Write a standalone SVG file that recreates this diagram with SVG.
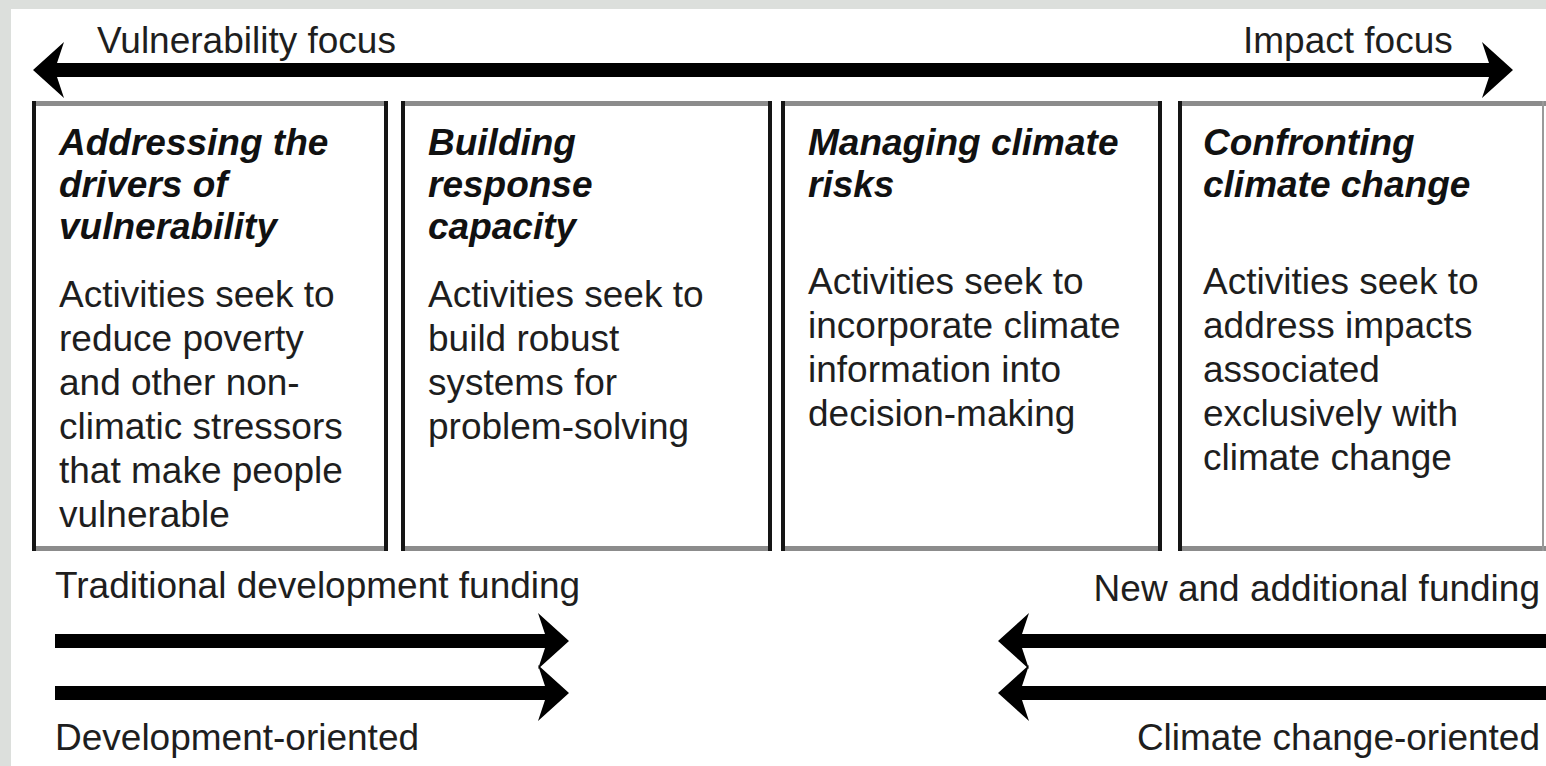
<svg xmlns="http://www.w3.org/2000/svg" width="1546" height="766" viewBox="0 0 1546 766">
  <style>
    text { font-family: "Liberation Sans", Arial, sans-serif; font-size: 37px; fill: #1e1e1e; }
    .head { font-weight: bold; font-style: italic; fill: #111; }
    .hline { fill: #8c8c8c; }
    .vline { fill: #151515; }
    .shaft { fill: #000; }
  </style>
  <defs>
    <!-- notched arrowhead pointing left, tip at origin -->
    <path id="headL" d="M0,0 L31,-28 L24,-7 L24,7 L31,28 Z" fill="#000"/>
    <!-- notched arrowhead pointing right, tip at origin -->
    <path id="headR" d="M0,0 L-31,-28 L-24,-7 L-24,7 L-31,28 Z" fill="#000"/>
  </defs>

  <!-- page and margin -->
  <rect x="0" y="0" width="1546" height="766" fill="#dcdfdc"/>
  <rect x="11" y="9" width="1535" height="757" fill="#fff"/>

  <!-- axis labels -->
  <text x="97" y="53">Vulnerability focus</text>
  <text x="1243" y="53">Impact focus</text>

  <g id="connectors">
    <!-- vulnerability / impact axis -->
    <rect class="shaft" x="55" y="63" width="1435" height="14"/>
    <use href="#headL" x="33" y="70"/>
    <use href="#headR" x="1513" y="70"/>
    <!-- development side -->
    <rect class="shaft" x="55" y="634" width="492" height="14"/>
    <use href="#headR" x="569" y="641"/>
    <rect class="shaft" x="55" y="686" width="492" height="14"/>
    <use href="#headR" x="569" y="693"/>
    <!-- climate change side -->
    <rect class="shaft" x="1020" y="634" width="526" height="14"/>
    <use href="#headL" x="998" y="641"/>
    <rect class="shaft" x="1020" y="686" width="526" height="14"/>
    <use href="#headL" x="998" y="693"/>
  </g>

  <g id="box-drivers">
    <rect class="hline" x="32" y="101" width="356" height="5"/>
    <rect class="hline" x="32" y="546" width="356" height="5"/>
    <rect class="vline" x="32" y="101" width="4" height="450"/>
    <rect class="vline" x="384" y="101" width="4" height="450"/>
    <text class="head" x="59" y="155">Addressing the</text>
    <text class="head" x="59" y="197">drivers of</text>
    <text class="head" x="59" y="239">vulnerability</text>
    <text x="59" y="307">Activities seek to</text>
    <text x="59" y="351">reduce poverty</text>
    <text x="59" y="395">and other non-</text>
    <text x="59" y="439">climatic stressors</text>
    <text x="59" y="483">that make people</text>
    <text x="59" y="527">vulnerable</text>
  </g>

  <g id="box-capacity">
    <rect class="hline" x="401" y="101" width="371" height="5"/>
    <rect class="hline" x="401" y="546" width="371" height="5"/>
    <rect class="vline" x="401" y="101" width="4" height="450"/>
    <rect class="vline" x="768" y="101" width="4" height="450"/>
    <text class="head" x="428" y="155">Building</text>
    <text class="head" x="428" y="197">response</text>
    <text class="head" x="428" y="239">capacity</text>
    <text x="428" y="307">Activities seek to</text>
    <text x="428" y="351">build robust</text>
    <text x="428" y="395">systems for</text>
    <text x="428" y="439">problem-solving</text>
  </g>

  <g id="box-risks">
    <rect class="hline" x="781" y="101" width="381" height="5"/>
    <rect class="hline" x="781" y="546" width="381" height="5"/>
    <rect class="vline" x="781" y="101" width="4" height="450"/>
    <rect class="vline" x="1158" y="101" width="4" height="450"/>
    <text class="head" x="808" y="155">Managing climate</text>
    <text class="head" x="808" y="197">risks</text>
    <text x="808" y="294">Activities seek to</text>
    <text x="808" y="338">incorporate climate</text>
    <text x="808" y="382">information into</text>
    <text x="808" y="426">decision-making</text>
  </g>

  <g id="box-confronting">
    <rect class="hline" x="1178" y="101" width="368" height="5"/>
    <rect class="hline" x="1178" y="546" width="368" height="5"/>
    <rect class="vline" x="1178" y="101" width="4" height="450"/>
    <rect x="1542" y="101" width="2" height="450" fill="#9a9a9a"/>
    <text class="head" x="1203" y="155">Confronting</text>
    <text class="head" x="1203" y="197">climate change</text>
    <text x="1203" y="294">Activities seek to</text>
    <text x="1203" y="338">address impacts</text>
    <text x="1203" y="382">associated</text>
    <text x="1203" y="426">exclusively with</text>
    <text x="1203" y="470">climate change</text>
  </g>

  <!-- funding and orientation labels -->
  <text x="55" y="598">Traditional development funding</text>
  <text x="55" y="750">Development-oriented</text>
  <text x="1540" y="601" text-anchor="end">New and additional funding</text>
  <text x="1540" y="750" text-anchor="end">Climate change-oriented</text>
</svg>
